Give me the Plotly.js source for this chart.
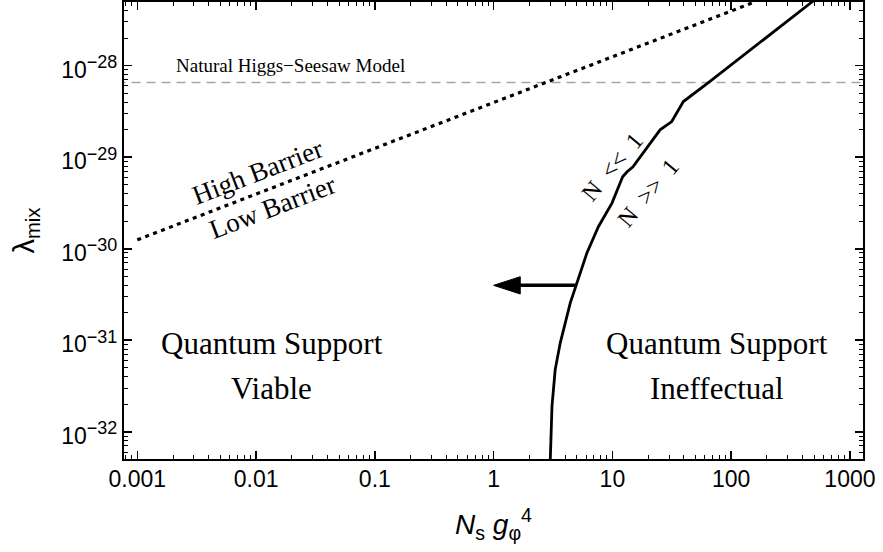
<!DOCTYPE html>
<html><head><meta charset="utf-8">
<script src="https://cdn.plot.ly/plotly-3.0.1.min.js"></script>
<style>html,body{margin:0;padding:0;background:#fff}#chart{width:883px;height:552px}</style>
</head><body><div id="chart"></div>
<script>
// ---- data ----
const boundaryX = [3.00, 3.10, 3.30, 3.64, 4.42, 4.96, 6.10, 7.64, 9.92, 12.2, 13.3, 14.9, 25.2, 31.6, 39.6, 64.3, 491];
const boundaryY = [4.92e-33, 1.90e-32, 4.78e-32, 9.37e-32, 2.56e-31, 3.98e-31, 8.97e-31, 1.75e-30, 3.15e-30, 6.11e-30, 6.92e-30, 7.85e-30, 1.99e-29, 2.45e-29, 4.05e-29, 6.53e-29, 5.08e-28];
const barrierX = [0.001, 1, 152];
const barrierY = [1.25e-30, 3.95e-29, 4.87e-28];
const seesawX = [0.0005, 2000];
const seesawY = [6.53e-29, 6.53e-29];
const arrowX = [4.96, 1];
const arrowY = [3.98e-31, 3.98e-31];
const xTickVals = [0.001, 0.01, 0.1, 1, 10, 100, 1000];
const xTickText = ["0.001", "0.01", "0.1", "1", "10", "100", "1000"];
const yTickVals = [1e-32, 1e-31, 1e-30, 1e-29, 1e-28];
const yTickExp = ["\u221232", "\u221231", "\u221230", "\u221229", "\u221228"];
const labelText = ["Natural Higgs\u2212Seesaw Model", "High Barrier", "Low Barrier", "N\u2002&lt;&lt;\u20021", "N\u2002&gt;&gt;\u20021", "Quantum Support", "Viable", "Quantum Support", "Ineffectual"];
const labelX = [0.0194, 0.0103, 0.0138, 9.95, 20.0, 0.0135, 0.0135, 76, 76];
const labelY = [1.0e-28, 6.9e-30, 2.87e-30, 7.85e-30, 4.08e-30, 9.2e-32, 3.0e-32, 9.2e-32, 3.0e-32];
const labelSize = [19, 27, 27, 24, 24, 31, 31, 31, 31];
const labelAngle = [0, -21, -21, -50, -50, 0, 0, 0, 0];

// minor tick positions (2..9 within each decade)
function minorTicks(lo, hi) {
  const out = [];
  for (let e = lo; e <= hi; e++) for (let m = 2; m <= 9; m++) out.push(m * Math.pow(10, e));
  return out;
}

const yTickText = yTickExp.map(e => '10<sup><span style="font-size:18px">' + e + '</span></sup>');

const traces = [
  {x: seesawX, y: seesawY, mode: 'lines', line: {color: '#a6a6a6', width: 1.4, dash: '9px,6px'}, hoverinfo: 'skip'},
  {x: barrierX, y: barrierY, mode: 'lines', line: {color: '#000', width: 3.2, dash: '4px,4.5px'}, hoverinfo: 'skip'},
  {x: boundaryX, y: boundaryY, mode: 'lines', line: {color: '#000', width: 2.8}, hoverinfo: 'skip'},
  {x: arrowX, y: arrowY, mode: 'lines+markers', line: {color: '#000', width: 3.5},
   marker: {symbol: 'arrow', size: [0, 28], angleref: 'previous', color: '#000', opacity: 1, line: {width: 1, color: '#000'}}, hoverinfo: 'skip'}
];

const annotations = labelText.map((t, i) => ({
  x: Math.log10(labelX[i]), y: Math.log10(labelY[i]), xref: 'x', yref: 'y',
  text: t, showarrow: false, textangle: labelAngle[i],
  font: {family: 'Liberation Serif, Times New Roman, serif', size: labelSize[i], color: '#000'},
  xanchor: 'center', yanchor: 'middle'
}));

const axisCommon = {
  type: 'log', showgrid: false, zeroline: false, showline: true, linecolor: '#000', linewidth: 2,
  mirror: 'ticks', ticks: 'inside', ticklen: 8, tickwidth: 1.6, tickcolor: '#000',
  tickmode: 'array', tickfont: {family: 'Liberation Sans, Arial, sans-serif', size: 23, color: '#000'}
};

const layout = {
  width: 883, height: 552,
  margin: {l: 124, r: 20, t: 2, b: 93, pad: 0},
  paper_bgcolor: '#fff', plot_bgcolor: '#fff', showlegend: false,
  font: {family: 'Liberation Sans, Arial, sans-serif', color: '#000'},
  xaxis: Object.assign({}, axisCommon, {
    range: [-3.112, 3.11], tickvals: xTickVals, ticktext: xTickText, ticklabelstandoff: -2,
    minor: {tickmode: 'array', tickvals: minorTicks(-4, 3), ticks: 'inside', ticklen: 4, tickwidth: 1, tickcolor: '#000', showgrid: false},
    title: {text: '<i>N</i><sub>s</sub> <i>g</i><sub>\u03c6</sub><sup>4</sup>', font: {size: 28, color: '#000'}, standoff: 24}
  }),
  yaxis: Object.assign({}, axisCommon, {
    range: [-32.297, -27.305], tickvals: yTickVals, ticktext: yTickText, ticklabelshift: 4,
    minor: {tickmode: 'array', tickvals: minorTicks(-33, -28), ticks: 'inside', ticklen: 4, tickwidth: 1, tickcolor: '#000', showgrid: false},
    title: {text: '\u03bb<sub>mix</sub>', font: {size: 29, color: '#000'}, standoff: 18}
  }),
  annotations: annotations
};

Plotly.newPlot('chart', traces, layout, {staticPlot: true, displayModeBar: false});
</script>
</body></html>
